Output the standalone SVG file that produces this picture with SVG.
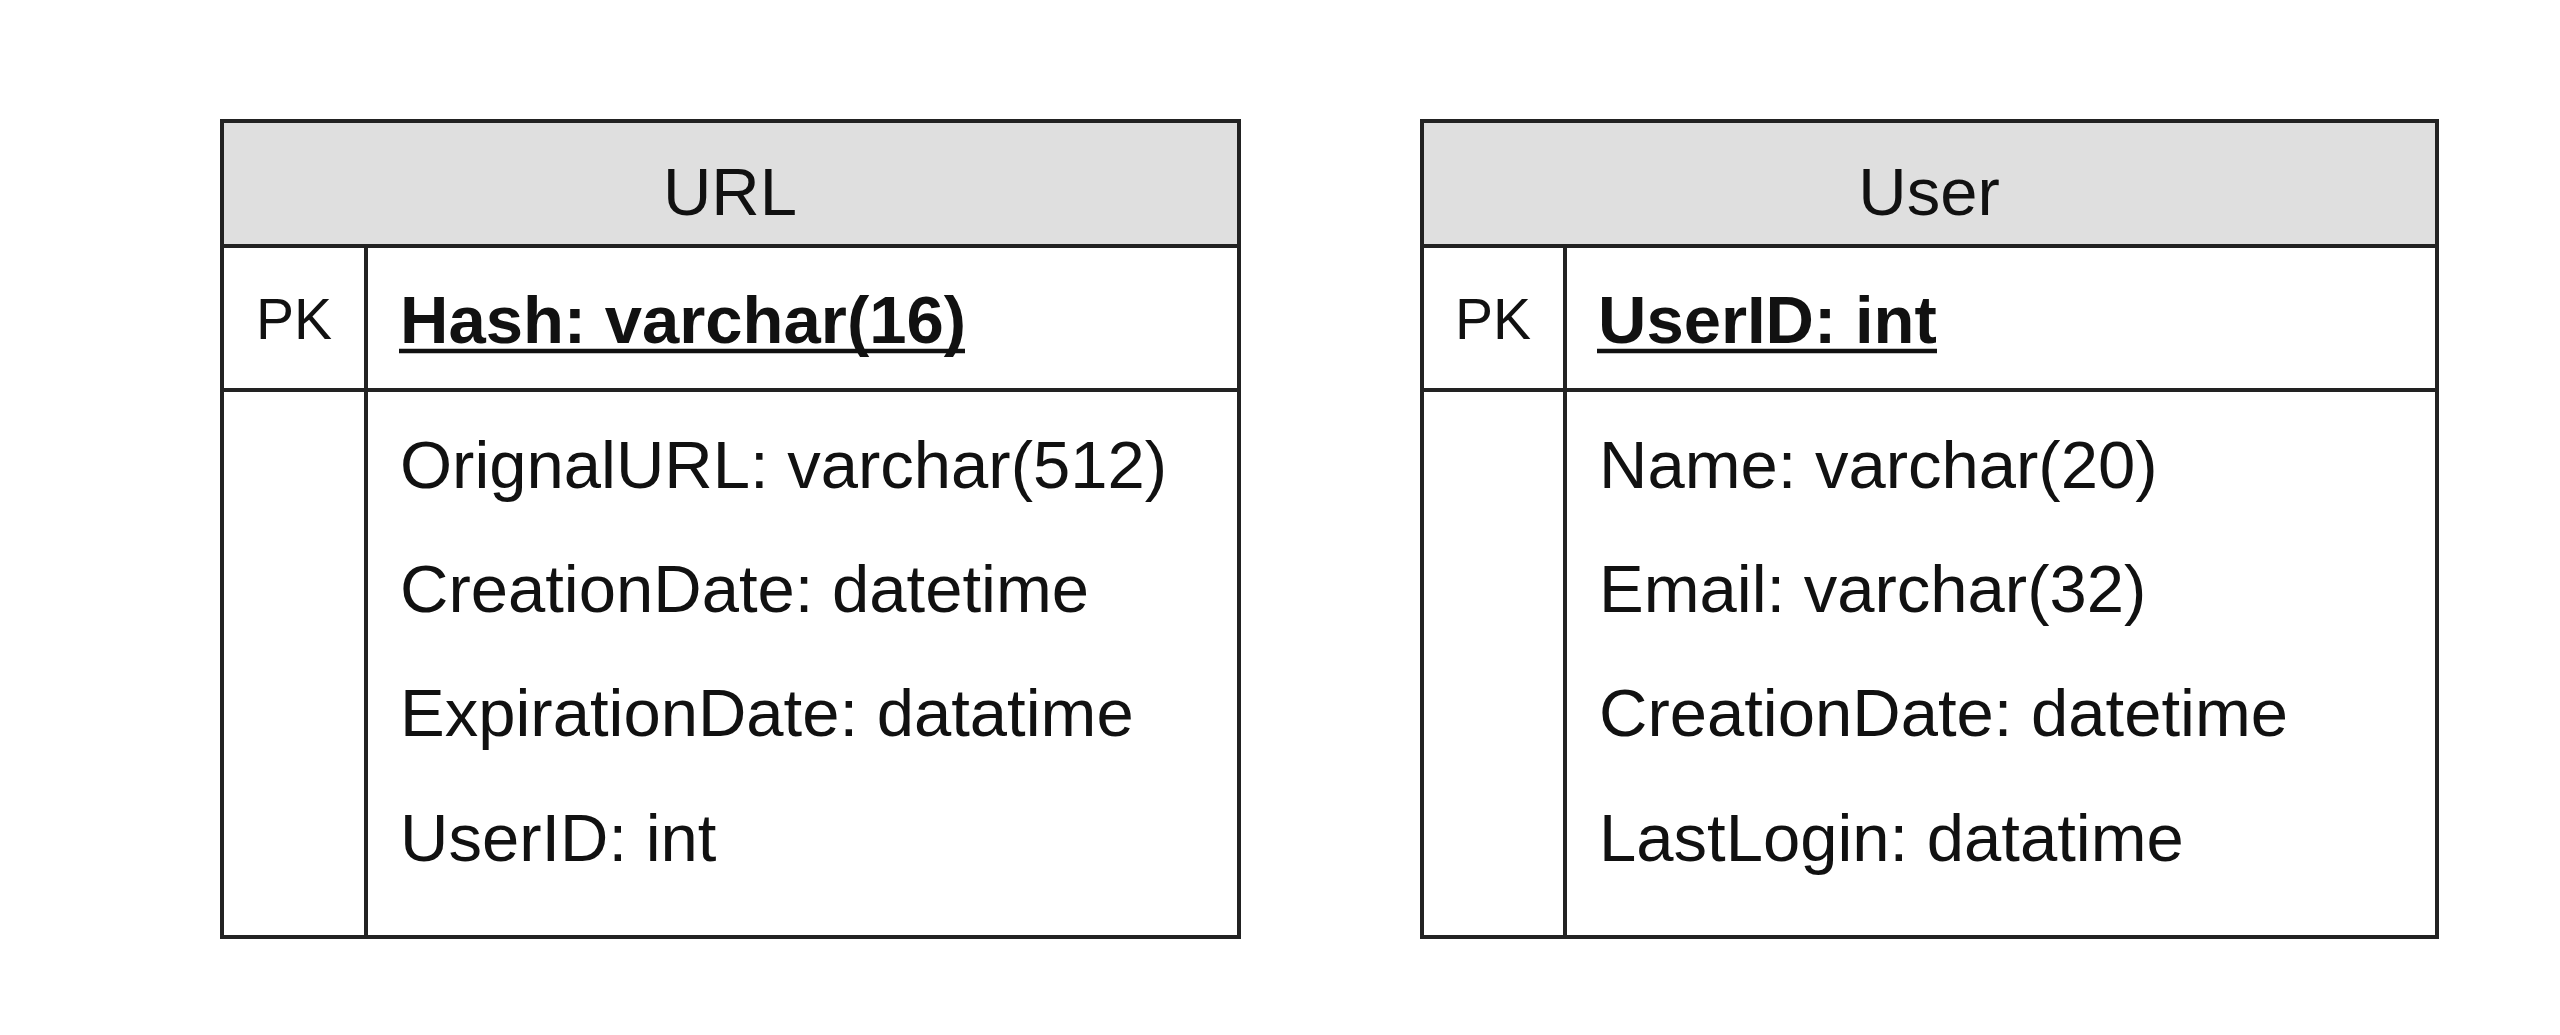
<svg xmlns="http://www.w3.org/2000/svg" width="2560" height="1035" viewBox="0 0 2560 1035">
<style>
.frame{fill:#ffffff;stroke:#222222;stroke-width:4}
.head{fill:#dfdfdf;stroke:#222222;stroke-width:4}
.ln{stroke:#222222;stroke-width:4;fill:none}
.ul{stroke:#111111;stroke-width:4.5;fill:none}
text{font-family:"Liberation Sans",Arial,Helvetica,sans-serif;fill:#111111}
.title{font-size:67px;text-anchor:middle}
.pk{font-size:57px;text-anchor:middle}
.key{font-size:67px;font-weight:bold}
.fld{font-size:67px}
</style>
<rect width="2560" height="1035" fill="#ffffff"/>
<g id="table-url">
<rect class="frame" x="222" y="121" width="1017" height="816"/>
<rect class="head" x="222" y="121" width="1017" height="125"/>
<line class="ln" x1="222" y1="390" x2="1239" y2="390"/>
<line class="ln" x1="366" y1="246" x2="366" y2="937"/>
<text class="title" x="730" y="215">URL</text>
<text class="pk" x="294" y="339">PK</text>
<text class="key" x="400" y="343">Hash: varchar(16)</text>
<line class="ul" x1="399" y1="351" x2="965" y2="351"/>
<text class="fld" x="400" y="488">OrignalURL: varchar(512)</text>
<text class="fld" x="400" y="612">CreationDate: datetime</text>
<text class="fld" x="400" y="736">ExpirationDate: datatime</text>
<text class="fld" x="400" y="861">UserID: int</text>
</g>
<g id="table-user">
<rect class="frame" x="1422" y="121" width="1015" height="816"/>
<rect class="head" x="1422" y="121" width="1015" height="125"/>
<line class="ln" x1="1422" y1="390" x2="2437" y2="390"/>
<line class="ln" x1="1565" y1="246" x2="1565" y2="937"/>
<text class="title" x="1929" y="215">User</text>
<text class="pk" x="1493" y="339">PK</text>
<text class="key" x="1598" y="343">UserID: int</text>
<line class="ul" x1="1597" y1="351" x2="1937" y2="351"/>
<text class="fld" x="1599" y="488">Name: varchar(20)</text>
<text class="fld" x="1599" y="612">Email: varchar(32)</text>
<text class="fld" x="1599" y="736">CreationDate: datetime</text>
<text class="fld" x="1599" y="861">LastLogin: datatime</text>
</g>
<g id="connectors"></g>
</svg>
